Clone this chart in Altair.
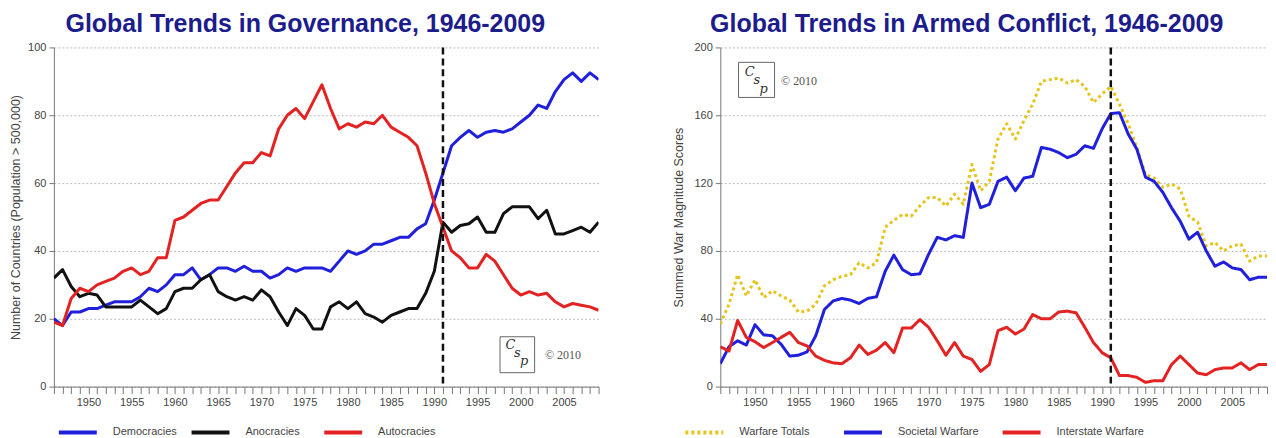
import altair as alt
import pandas as pd

years = list(range(1946, 2010))

democracies = [20, 18, 22, 22, 23, 23, 24, 25, 25, 25,
               26.5, 29, 28, 30, 33, 33, 35, 31.5, 33, 35,
               35, 34, 35.5, 34, 34, 32, 33, 35, 34, 35,
               35, 35, 34, 37, 40, 39, 40, 42, 42, 43,
               44, 44, 46.5, 48, 55, 63, 71, 73.5, 75.5, 73.5,
               75, 75.5, 75, 76, 78, 80, 83, 82, 87, 90.5,
               92.5, 90, 92.5, 90.5]
anocracies = [32, 34.5, 29.5, 26.5, 27.5, 27, 23.5, 23.5, 23.5, 23.5,
              25.5, 23.5, 21.5, 23, 28, 29, 29, 31.5, 33, 28,
              26.5, 25.5, 26.5, 25.5, 28.5, 26.5, 22, 18, 23, 21,
              17, 17, 23.5, 25, 23, 25, 21.5, 20.5, 19, 21,
              22, 23, 23, 27.5, 34, 48.5, 45.5, 47.5, 48, 50,
              45.5, 45.5, 51, 53, 53, 53, 49.5, 52, 45, 45,
              46, 47, 45.5, 48.5]
autocracies = [19, 18, 26, 29, 28, 30, 31, 32, 34, 35,
               33, 34, 38, 38, 49, 50, 52, 54, 55, 55,
               59, 63, 66, 66, 69, 68, 76, 80, 82, 79,
               84, 89, 82, 76, 77.5, 76.5, 78, 77.5, 80, 76.5,
               75, 73.5, 71, 63, 54, 47, 40, 38, 35, 35,
               39, 37, 33, 29, 27, 28, 27, 27.5, 25, 23.5,
               24.5, 24, 23.5, 22.5]

warfare_totals = [37, 48.5, 66, 53.5, 63, 52.5, 56.5, 53.5, 51, 44,
                  44.5, 48.5, 59.5, 63, 65, 66, 73, 70, 73, 94,
                  98, 101.5, 100.5, 106.5, 111.5, 111.5, 106.5, 113.5, 107.5, 131,
                  115.5, 121, 146, 155, 146, 157, 166.5, 180, 181, 182,
                  179, 181, 177, 167.5, 172.5, 177, 166.5, 155, 141, 125,
                  123, 117.5, 119.5, 116.5, 100.5, 97, 83, 85, 80, 83,
                  84, 74, 77, 77]
societal = [13.5, 23.5, 27, 24.5, 36.5, 30.5, 30, 25, 18, 18.5,
            20.5, 30, 45.5, 50.5, 52, 51, 49, 52, 53, 68,
            77.5, 69, 66, 66.5, 78, 88, 86.5, 89, 88, 120,
            105.5, 107.5, 121, 123.5, 115.5, 123, 124, 141, 140, 138,
            135, 137, 142, 140.5, 152, 161, 161.5, 149, 140, 123.5,
            121, 114.5, 105.5, 97.5, 87, 91, 80, 71, 73.5, 70,
            69, 63, 64.5, 64.5]
interstate = [23.5, 21, 39, 29, 26.5, 23, 26, 29, 32, 26,
              24, 18, 15.5, 14, 13.5, 17, 24.5, 19, 21.5, 26,
              20, 34.5, 34.5, 39.5, 35, 27, 18.5, 26, 18, 16,
              9, 13, 33, 35, 31, 34, 42.5, 40, 40, 44,
              44.5, 43.5, 35, 26, 20, 17, 6.5, 6.5, 5.5, 2.5,
              3.5, 3.5, 13, 18, 13, 8, 7, 10, 11, 11,
              14, 10, 13, 13]

gov_series = ["Democracies", "Anocracies", "Autocracies"]
gov_colors = ["#1f1fdc", "#111111", "#e32222"]
war_series = ["Warfare Totals", "Societal Warfare", "Interstate Warfare"]
war_colors = ["#e6c41e", "#1f1fdc", "#e32222"]
war_dashes = [[3, 3], [1, 0], [1, 0]]

gov_yticks = [0, 20, 40, 60, 80, 100]
war_yticks = [0, 40, 80, 120, 160, 200]

# annotation anchors (data coordinates)
gov_box = {"Year": [1997.6], "Year2": [2001.6], "Value": [14.7], "Value2": [4.1]}
gov_letters = {"Year": [1998.8, 1999.6, 2000.4], "Value": [12.3, 10.0, 7.6], "t": ["C", "s", "p"]}
gov_copy = {"Year": [2002.8], "Value": [9.4], "t": ["\u00a9 2010"]}
war_box = {"Year": [1948.1], "Year2": [1952.25], "Value": [191.2], "Value2": [170.5]}
war_letters = {"Year": [1949.4, 1950.2, 1951.0], "Value": [185.5, 180.5, 175.5], "t": ["C", "s", "p"]}
war_copy = {"Year": [1953.0], "Value": [180], "t": ["\u00a9 2010"]}

FONT = "Liberation Sans"
LEG_SYMBOL = "M-3.8,0L3.8,0"


def long_df(series, values):
    rows = []
    for s, vals in zip(series, values):
        for yr, v in zip(years, vals):
            rows.append({"Year": yr, "Value": v, "Series": s})
    return pd.DataFrame(rows)


def panel(df, series, colors, dashes, yticks, ytitle, ytitle_pad, title, title_dx,
          legx, colpad, box, letters, copy, width):
    ymax = yticks[-1]
    xaxis = alt.Axis(values=years, format="d", title=None,
                     labelExpr="datum.value % 5 === 0 ? datum.label : ''",
                     labelOverlap=False, labelFlush=False, grid=False,
                     tickSize=7, tickColor="#777", domainColor="#777",
                     labelColor="#444", labelFontSize=11, labelFont=FONT,
                     labelPadding=3)
    yaxis = alt.Axis(values=yticks, title=ytitle, grid=True, gridDash=[2, 2],
                     gridColor="#bbbbbb", tickSize=5, tickColor="#777",
                     domainColor="#777", labelColor="#444", labelFontSize=11,
                     labelFont=FONT, titleFont=FONT, titleFontSize=12.5,
                     titleFontWeight="normal", titleColor="#444",
                     titlePadding=ytitle_pad, labelPadding=3)
    X = alt.X("Year:Q", scale=alt.Scale(domain=[1946, 2009], nice=False, zero=False), axis=xaxis)
    Y = alt.Y("Value:Q", scale=alt.Scale(domain=[0, ymax], nice=False), axis=yaxis)
    leg = alt.Legend(title=None, orient="none", legendX=legx, legendY=379,
                     direction="horizontal", symbolType=LEG_SYMBOL, symbolSize=100,
                     symbolStrokeWidth=4, labelFontSize=11, labelFont=FONT,
                     labelColor="#444", labelOffset=28, columnPadding=colpad,
                     gridAlign="all", padding=0)
    enc = {
        "x": X, "y": Y,
        "color": alt.Color("Series:N", scale=alt.Scale(domain=series, range=colors),
                           sort=series, legend=leg),
    }
    if dashes is not None:
        enc["strokeDash"] = alt.StrokeDash("Series:N", scale=alt.Scale(domain=series, range=dashes),
                                           sort=series, legend=leg)
    lines = alt.Chart(df).mark_line(strokeWidth=3, strokeJoin="round", clip=True).encode(**enc)

    rule_df = pd.DataFrame({"Year": [1991], "Value": [ymax], "Value2": [0]})
    rule = alt.Chart(rule_df).mark_rule(color="#111111", strokeWidth=2.5, strokeDash=[7, 4]).encode(
        x=X, y=Y, y2="Value2:Q")

    boxc = alt.Chart(pd.DataFrame(box)).mark_rect(fill="white", stroke="#666666", strokeWidth=1).encode(
        x=X, x2="Year2:Q", y=Y, y2="Value2:Q")
    lett = alt.Chart(pd.DataFrame(letters)).mark_text(
        font="DejaVu Serif", fontStyle="italic", fontSize=13, color="#333333").encode(
        x=X, y=Y, text="t:N")
    copyc = alt.Chart(pd.DataFrame(copy)).mark_text(
        font="Liberation Serif", fontSize=12, color="#555555", align="left").encode(
        x=X, y=Y, text="t:N")

    return alt.layer(lines, rule, boxc, lett, copyc).properties(
        width=width, height=340,
        title=alt.TitleParams(title, font=FONT, fontSize=25, fontWeight="bold",
                              color="#1c1c8c", anchor="middle", dx=title_dx, offset=4))


gov = panel(long_df(gov_series, [democracies, anocracies, autocracies]),
            gov_series, gov_colors, None, gov_yticks,
            "Number of Countries (Population > 500,000)", 5,
            "Global Trends in Governance, 1946-2009", -21, 17, 6,
            gov_box, gov_letters, gov_copy, 546)
war = panel(long_df(war_series, [warfare_totals, societal, interstate]),
            war_series, war_colors, war_dashes, war_yticks,
            "Summed War Magnitude Scores", 9,
            "Global Trends in Armed Conflict, 1946-2009", -27, -23, 9,
            war_box, war_letters, war_copy, 548)

chart = alt.hconcat(gov, war, spacing=72).resolve_scale(
    color="independent", strokeDash="independent", x="independent", y="independent"
).properties(padding={"left": 1, "top": 4, "right": 0, "bottom": 0}
).configure_view(stroke=None)

chart.save("out.html", embed_options={"renderer": "svg", "actions": False})
